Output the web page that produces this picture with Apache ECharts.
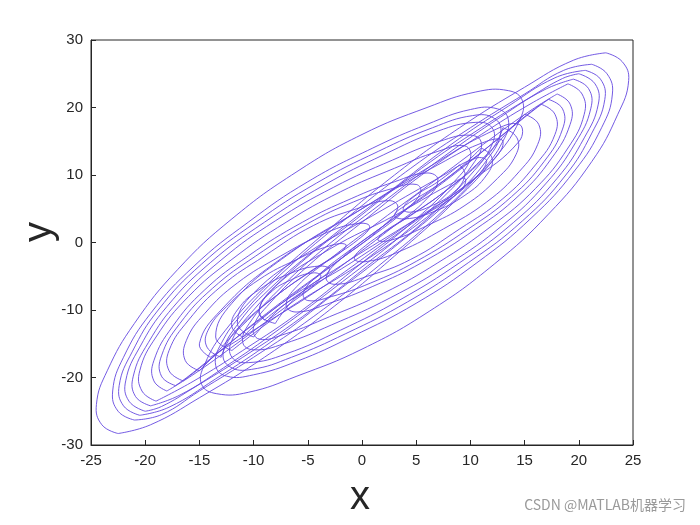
<!DOCTYPE html>
<html>
<head>
<meta charset="utf-8">
<script src="https://cdn.jsdelivr.net/npm/echarts@6/dist/echarts.min.js"></script>
<style>html,body{margin:0;padding:0;background:#fff}#c{width:700px;height:525px}</style>
</head>
<body>
<div id="c"></div>
<script>
// trajectory loops, [x, y]
// loops wound around the left (-6,-7) lobe
const leftLoops = [
  [[-22.5,-28.3],[-24,-27],[-24.5,-24],[-23.5,-19],[-21,-12],[-17,-4],[-12,3.5],[-6,10.5],[0,16],[6,20],[10.5,22.3],[13.5,22.5],[14.8,21],[14.5,18],[12.5,13],[8.5,6],[3,-2],[-3,-10],[-9,-17],[-15,-23],[-19.5,-27],[-22.5,-28.3]],
  [[-21,-26.3],[-22.5,-25],[-23,-22],[-22,-17],[-19.5,-10.5],[-15.5,-3.5],[-10.5,3],[-5,9],[1,14],[6,17.5],[10,19.7],[12.5,19.8],[13.5,18.2],[13,15],[11,10.5],[7,4],[1.5,-3.5],[-4.5,-11],[-10,-17],[-15,-22],[-18.5,-25.5],[-21,-26.3]],
  [[-20.5,-25.6],[-22,-24.2],[-22.4,-21.2],[-21.2,-16.2],[-18.8,-10],[-14.8,-3.2],[-9.8,3],[-4.2,8.8],[1.5,13.5],[6.5,17],[10.2,18.8],[12.2,18.4],[12.8,16.3],[11.6,12.4],[8.6,7],[3.5,0],[-2.5,-7.5],[-8.2,-14.5],[-13.5,-20.2],[-17.8,-24.4],[-20.5,-25.6]],
  [[-20,-25],[-21.5,-23.5],[-21.8,-20.5],[-20.5,-15.5],[-18,-9.5],[-14,-3],[-9,3],[-3.5,8.5],[2,13],[7,16.5],[10.5,17.8],[12,17],[12,14.5],[10,10],[6,3.5],[0.5,-3.5],[-5.5,-11],[-11,-17],[-15.5,-21.5],[-18.5,-24.3],[-20,-25]],
  [[-19.5,-24.2],[-20.9,-22.8],[-21.1,-19.8],[-19.7,-14.8],[-17,-8.8],[-13,-2.6],[-8,3.2],[-2.6,8.2],[2.8,12.2],[7.2,15],[10,15.9],[11,14.8],[10.4,12],[7.8,7.2],[3.6,1],[-1.8,-5.8],[-7.6,-12.8],[-12.8,-18.6],[-16.8,-22.6],[-19.5,-24.2]],
  [[-19,-23.5],[-20.3,-22],[-20.5,-19],[-19,-14],[-16,-8],[-12,-2.5],[-7,3],[-2,7.5],[3,11],[7,13.5],[9.5,14.3],[10,12.5],[8.5,9],[5,3.5],[0,-3],[-5.5,-10],[-11,-16],[-15.5,-20.5],[-19,-23.5]],
  [[-18,-22],[-19.2,-20.5],[-19.2,-17.5],[-17.5,-12.5],[-14.5,-7],[-10.5,-2],[-5.5,3],[-1,6.5],[3,9],[6,10.3],[7,9.3],[6,6.5],[3,2.5],[-1.5,-3],[-7,-9.5],[-12,-15.5],[-15.5,-19.5],[-18,-22]],
  [[-17.2,-21.2],[-18.5,-19.8],[-18.5,-16.8],[-16.8,-12],[-13.8,-6.8],[-9.8,-2],[-5,2.8],[-0.8,6],[2.8,8],[5,8.6],[5.4,7.4],[4,4.8],[1,1],[-3.5,-4.2],[-8.8,-10.5],[-13.5,-16.6],[-16,-19.8],[-17.2,-21.2]],
  [[-16.5,-20.5],[-17.8,-19],[-17.8,-16],[-16,-11.5],[-13,-6.5],[-9,-2],[-4.5,2.5],[-0.5,5],[2.5,6.2],[3.3,5.2],[2,2.5],[-2,-2.5],[-7,-8.5],[-11.5,-14],[-14.5,-18],[-16.5,-20.5]],
  [[-15,-19],[-16.3,-17.5],[-16.2,-14.5],[-14.5,-10.5],[-11.5,-6],[-7.5,-2],[-3.5,1.3],[-0.5,2.8],[0.7,2.4],[-0.3,0.5],[-3.5,-3],[-8,-8],[-11.5,-13],[-13.5,-16.5],[-15,-19]],
  [[-13,-17],[-14.3,-15.5],[-14.2,-13],[-12.5,-9.5],[-9.5,-5.5],[-6,-2.5],[-3,-0.5],[-1.5,-0.3],[-2,-1.5],[-4.5,-4],[-8,-8],[-11,-12],[-12.3,-14.5],[-13,-17]],
  [[-11,-14],[-12,-12.5],[-11.5,-10],[-9.5,-7],[-6.5,-4.5],[-4,-3.5],[-3,-4],[-4,-5.5],[-6.5,-8],[-9,-11],[-11,-14]],
  [[-9,-11.5],[-9.5,-10],[-8.5,-7.5],[-6.5,-5.5],[-4.5,-4.5],[-3.8,-5],[-4.8,-6.8],[-7,-9],[-9,-11.5]]
];
// loops wound around the right (6,6) lobe
const rightLoops = [
  [[22.5,28.1],[24,26.8],[24.6,24],[23.6,19],[21.2,12],[17.2,4.2],[12.2,-3.2],[6.2,-10.2],[0,-15.8],[-6,-19.8],[-10.5,-22.2],[-13.4,-22.4],[-14.8,-21],[-14.5,-18],[-12.6,-13],[-8.6,-6],[-3,2],[3,10],[9,17],[15,23],[19.5,27],[22.5,28.1]],
  [[21.2,26.4],[22.6,25],[23.1,22],[22.1,17],[19.6,10.6],[15.6,3.6],[10.6,-3],[5,-9],[-1,-14],[-6,-17.6],[-10,-19.6],[-12.5,-19.8],[-13.5,-18.2],[-13,-15],[-11,-10.5],[-7,-4],[-1.5,3.5],[4.5,11],[10,17],[15,22],[18.6,25.5],[21.2,26.4]],
  [[20.6,25.5],[22,24.2],[22.4,21.2],[21.2,16.2],[18.8,10],[14.8,3.2],[9.8,-3],[4.2,-8.8],[-1.5,-13.5],[-6.5,-17],[-10.2,-18.8],[-12.2,-18.4],[-12.8,-16.3],[-11.6,-12.4],[-8.6,-7],[-3.5,0],[2.5,7.5],[8.2,14.5],[13.5,20.2],[17.8,24.4],[20.6,25.5]],
  [[20,25],[21.5,23.5],[21.8,20.5],[20.5,15.5],[18,9.5],[14,3],[9,-3],[3.5,-8.5],[-2,-13],[-7,-16.5],[-10.5,-17.8],[-12,-17],[-12,-14.5],[-10,-10],[-6,-3.5],[-0.5,3.5],[5.5,11],[11,17],[15.5,21.5],[18.5,24.3],[20,25]],
  [[19.5,24.2],[20.9,22.8],[21.1,19.8],[19.7,14.8],[17,8.8],[13,2.6],[8,-3.2],[2.6,-8.2],[-2.8,-12.2],[-7.2,-15],[-10,-15.9],[-11,-14.8],[-10.4,-12],[-7.8,-7.2],[-3.6,-1],[1.8,5.8],[7.6,12.8],[12.8,18.6],[16.8,22.6],[19.5,24.2]],
  [[19,23.5],[20.3,22],[20.5,19],[19,14],[16,8],[12,2.5],[7,-3],[2,-7.5],[-3,-11],[-7,-13.5],[-9.5,-14.3],[-10,-12.5],[-8.5,-9],[-5,-3.5],[0,3],[5.5,10],[11,16],[15.5,20.5],[19,23.5]],
  [[18,22],[19.2,20.5],[19.2,17.5],[17.5,12.5],[14.5,7],[10.5,2],[5.5,-3],[1,-6.5],[-3,-9],[-6,-10.3],[-7,-9.3],[-6,-6.5],[-3,-2.5],[1.5,3],[7,9.5],[12,15.5],[15.5,19.5],[18,22]],
  [[17.2,21.2],[18.5,19.8],[18.5,16.8],[16.8,12],[13.8,6.8],[9.8,2],[5,-2.8],[0.8,-6],[-2.8,-8],[-5,-8.6],[-5.4,-7.4],[-4,-4.8],[-1,-1],[3.5,4.2],[8.8,10.5],[13.5,16.6],[16,19.8],[17.2,21.2]],
  [[16.5,20.5],[17.8,19],[17.8,16],[16,11.5],[13,6.5],[9,2],[4.5,-2.5],[0.5,-5],[-2.5,-6.2],[-3.3,-5.2],[-2,-2.5],[2,2.5],[7,8.5],[11.5,14],[14.5,18],[16.5,20.5]],
  [[15,19],[16.3,17.5],[16.2,14.5],[14.5,10.5],[11.5,6],[7.5,2],[3.5,-1.3],[0.5,-2.8],[-0.7,-2.4],[0.3,-0.5],[3.5,3],[8,8],[11.5,13],[13.5,16.5],[15,19]],
  [[13,17],[14.3,15.5],[14.2,13],[12.5,9.5],[9.5,5.5],[6,2.5],[3,0.5],[1.5,0.3],[2,1.5],[4.5,4],[8,8],[11,12],[12.3,14.5],[13,17]],
  [[11,14],[12,12.5],[11.5,10],[9.5,7],[6.5,4.5],[4,3.5],[3,4],[4,5.5],[6.5,8],[9,11],[11,14]],
  [[9,11.5],[9.5,10],[8.5,7.5],[6.5,5.5],[4.5,4.5],[3.8,5],[4.8,6.8],[7,9],[9,11.5]]
];
// loops crossing the centre between both lobes
const crossLoops = [
  [[-12,-16],[-13.5,-14],[-12,-9],[-7,-2],[0,5],[7,11.5],[11.5,15],[13,15],[12,12],[7,5],[0,-3],[-7,-10],[-12,-16]],
  [[-10,-14],[-11.5,-12],[-10,-7.5],[-5,-1.5],[1,4],[7,9.5],[10.5,12.5],[11.5,12],[10,9],[5,3.5],[-1,-3],[-7,-9],[-10,-14]],
  [[-14,-17],[-15,-15],[-13,-10],[-8,-3],[-1,4],[6,11],[12,16.5],[14.5,17.5],[14.5,15],[10,9],[3,1],[-4,-7],[-10,-13],[-14,-17]],
  [[-8,-12],[-9.5,-10.5],[-8,-6.5],[-3,-1],[3,4],[8,8.5],[9.5,9.5],[9,7.5],[4,2.5],[-2,-3.5],[-6,-8],[-8,-12]]
];
const xTicks = [-25, -20, -15, -10, -5, 0, 5, 10, 15, 20, 25];
const yTicks = [-30, -20, -10, 0, 10, 20, 30];

const allLoops = leftLoops.concat(rightLoops, crossLoops);
const lineColor = '#6448e0';

function renderLoop(params, api) {
  const loop = allLoops[params.dataIndex];
  const points = loop.map(function (p) { return api.coord(p); });
  return {
    type: 'polyline',
    shape: { points: points, smooth: 0.45, smoothConstraint: false },
    style: { stroke: lineColor, fill: null, lineWidth: 0.9 },
  };
}

const axisCommon = {
  axisLine: { show: true, onZero: false, lineStyle: { color: '#262626', width: 1 } },
  axisTick: { show: true, inside: true, length: 5, lineStyle: { color: '#262626' } },
  splitLine: { show: false },
  axisLabel: { color: '#262626', fontSize: 15, fontFamily: 'Liberation Sans, Arial' },
};

const myChart = echarts.init(document.getElementById('c'));
myChart.setOption({
  backgroundColor: '#fff',
  grid: { left: 91, right: 67, top: 40, bottom: 80, show: true, borderColor: '#262626', borderWidth: 1 },
  xAxis: Object.assign({ type: 'value', min: -25, max: 25, interval: 5 }, axisCommon),
  yAxis: Object.assign({ type: 'value', min: -30, max: 30, interval: 10 }, axisCommon),
  graphic: [
    { type: 'text', left: 350, top: 478, style: { text: 'x', fontSize: 40, fill: '#262626', fontFamily: 'Liberation Sans, Arial' } },
    { type: 'text', left: 20, top: 222, rotation: Math.PI / 2, style: { text: 'y', fontSize: 40, fill: '#262626', fontFamily: 'Liberation Sans, Arial' } },
    { type: 'text', right: 14, top: 498, style: { text: 'CSDN @MATLAB机器学习', fontSize: 14, fill: '#9a9a9a', fontFamily: 'Noto Sans CJK SC, Liberation Sans' } },
  ],
  series: [{
    type: 'custom',
    renderItem: renderLoop,
    data: allLoops.map(function (loop) { return loop[0]; }),
    encode: { x: 0, y: 1 },
    clip: true,
    animation: false,
  }],
});
</script>
</body>
</html>
